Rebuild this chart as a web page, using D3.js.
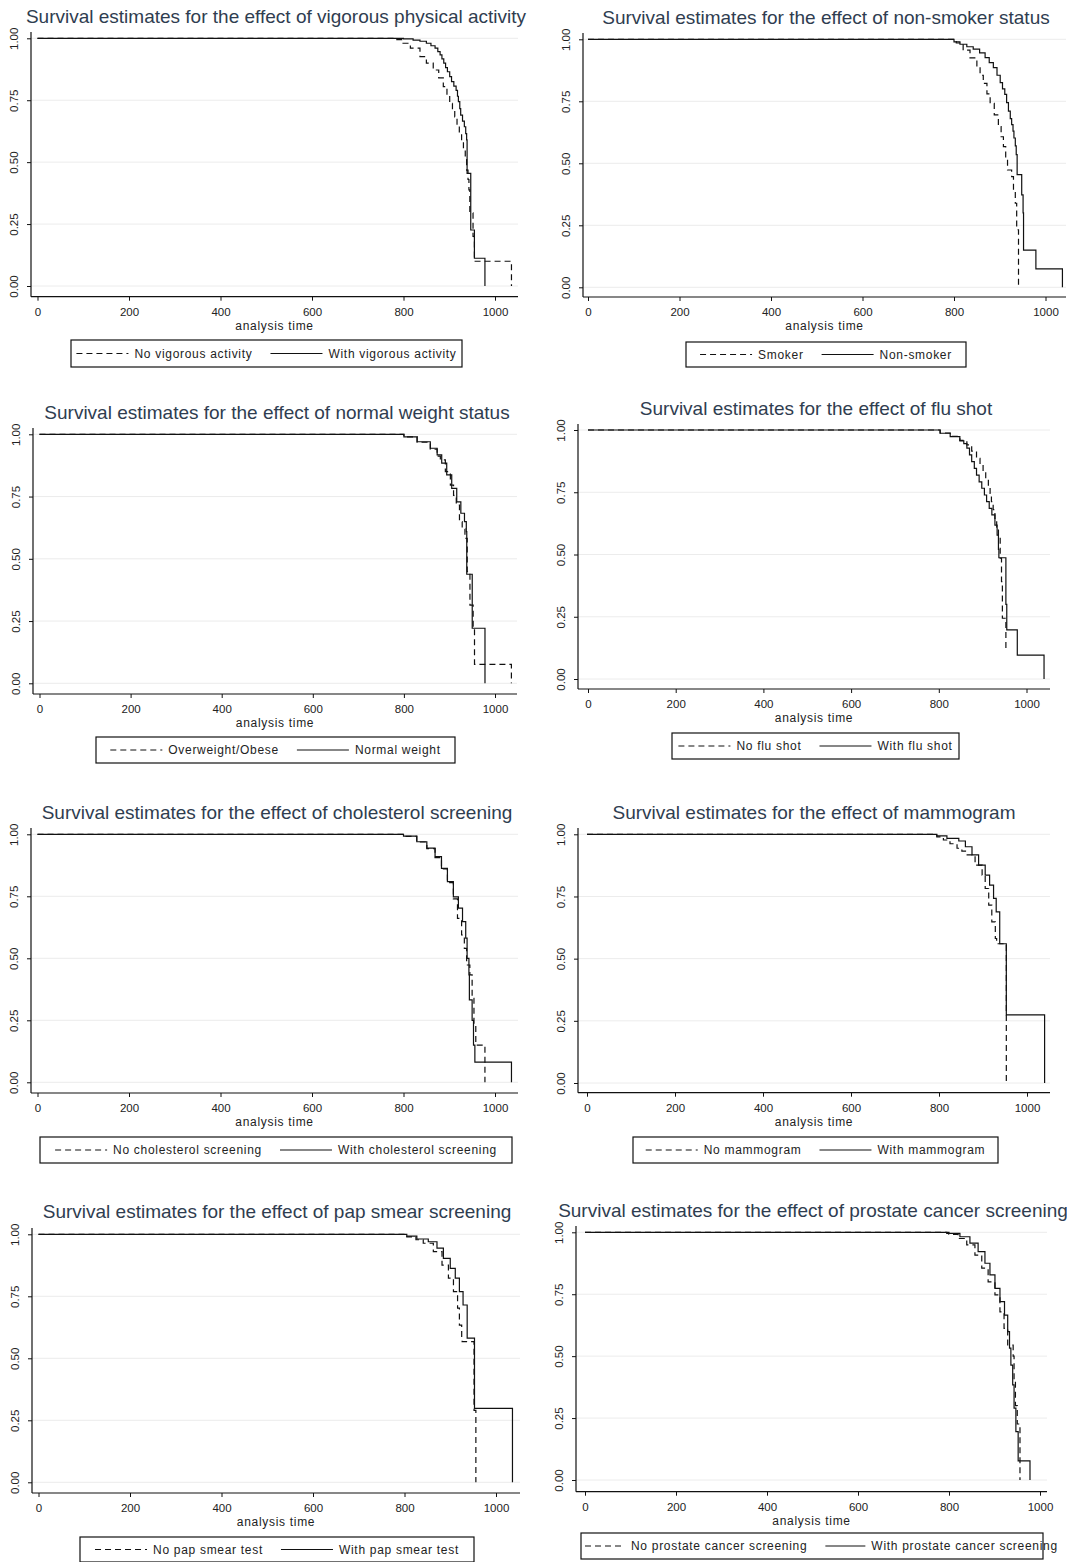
<!DOCTYPE html>
<html lang="en">
<head>
<meta charset="UTF-8">
<title>Survival estimates</title>
<script src="https://d3js.org/d3.v7.min.js"></script>
<style>
  body { margin: 0; background: #fff; }
  text { font-family: "Liberation Sans", Arial, sans-serif; fill: #222; }
  .title { font-size: 19px; fill: #2f3d50; }
  .tick text { font-size: 11.5px; fill: #222; }
  .tick line { stroke: #111; }
  .axisline { stroke: #111; stroke-width: 1.2; }
  .grid { stroke: #ececec; stroke-width: 1; }
  .km { fill: none; stroke: #111; stroke-width: 1.2; }
  .dash { stroke-dasharray: 6 4; }
  .legend-box { fill: none; stroke: #111; stroke-width: 1.2; }
  .legend text, .xlab { font-size: 12px; letter-spacing: 0.7px; }
</style>
</head>
<body>
<svg id="svg" width="1067" height="1562"></svg>

<script>
// --- data -----------------------------------------------------------------

let titles = [
    'Survival estimates for the effect of vigorous physical activity',
    'Survival estimates for the effect of non-smoker status',
    'Survival estimates for the effect of normal weight status',
    'Survival estimates for the effect of flu shot',
    'Survival estimates for the effect of cholesterol screening',
    'Survival estimates for the effect of mammogram',
    'Survival estimates for the effect of pap smear screening',
    'Survival estimates for the effect of prostate cancer screening'
];

let legendLabels = [
    ['No vigorous activity', 'With vigorous activity'],
    ['Smoker', 'Non-smoker'],
    ['Overweight/Obese', 'Normal weight'],
    ['No flu shot', 'With flu shot'],
    ['No cholesterol screening', 'With cholesterol screening'],
    ['No mammogram', 'With mammogram'],
    ['No pap smear test', 'With pap smear test'],
    ['No prostate cancer screening', 'With prostate cancer screening']
];

let xTicks = [0, 200, 400, 600, 800, 1000];
let yTicks = [0, 0.25, 0.5, 0.75, 1];
let xLabel = 'analysis time';

// [analysis time, survival]
let noVigorous = [[0,1],[766,1],[780,0.995],[799,0.98],[815,0.96],[836,0.926],[850,0.9],[865,0.872],[877,0.84],[887,0.805],[895,0.77],[901,0.737],[907,0.71],[912,0.683],[917,0.65],[922,0.616],[927,0.58],[931,0.549],[935,0.51],[938,0.468],[941,0.43],[943,0.388],[945,0.295],[952,0.2],[955,0.1],[1036,0]];
let withVigorous = [[0,1],[781,1],[800,0.998],[821,0.993],[836,0.988],[850,0.98],[860,0.97],[869,0.96],[875,0.946],[880,0.933],[884,0.917],[888,0.9],[892,0.882],[896,0.865],[901,0.845],[905,0.825],[910,0.807],[915,0.79],[918,0.766],[920,0.744],[923,0.716],[925,0.69],[929,0.666],[933,0.643],[936,0.615],[938,0.59],[939,0.455],[947,0.226],[955,0.112],[978,0]];

let smoker = [[0,1],[791,1],[805,0.985],[820,0.956],[835,0.925],[850,0.889],[857,0.855],[864,0.822],[872,0.78],[879,0.742],[888,0.695],[897,0.648],[903,0.607],[908,0.567],[913,0.52],[917,0.473],[926,0.446],[930,0.39],[934,0.339],[937,0.232],[941,0]];
let nonSmoker = [[0,1],[784,1],[800,0.99],[813,0.98],[828,0.97],[842,0.96],[856,0.945],[868,0.926],[877,0.906],[886,0.886],[894,0.855],[901,0.825],[906,0.8],[911,0.778],[915,0.745],[919,0.71],[923,0.68],[926,0.656],[929,0.63],[931,0.602],[934,0.57],[936,0.535],[938,0.454],[948,0.373],[951,0.3],[952,0.15],[979,0.074],[1037,0]];

let overweight = [[0,1],[781,1],[800,0.99],[829,0.968],[858,0.94],[873,0.912],[880,0.897],[891,0.85],[902,0.796],[909,0.755],[915,0.716],[922,0.649],[928,0.62],[934,0.582],[939,0.448],[945,0.314],[952,0.221],[955,0.076],[1036,0]];
let normalWeight = [[0,1],[781,1],[800,0.99],[829,0.97],[858,0.944],[873,0.917],[883,0.884],[894,0.837],[905,0.783],[916,0.729],[925,0.683],[933,0.649],[937,0.609],[938,0.438],[950,0.221],[978,0]];

let noFluShot = [[0,1],[780,1],[803,0.988],[826,0.975],[848,0.958],[864,0.94],[875,0.915],[886,0.886],[894,0.86],[901,0.833],[907,0.806],[913,0.779],[917,0.745],[920,0.712],[924,0.68],[928,0.645],[932,0.61],[936,0.578],[940,0.485],[943,0.391],[945,0.244],[953,0.11]];
let withFluShot = [[0,1],[776,1],[803,0.987],[826,0.973],[848,0.956],[857,0.945],[864,0.927],[870,0.9],[875,0.873],[881,0.846],[886,0.819],[892,0.792],[898,0.766],[904,0.739],[909,0.712],[915,0.685],[921,0.659],[928,0.618],[933,0.578],[936,0.52],[937,0.487],[953,0.3],[955,0.197],[979,0.096],[1040,0]];

let noCholesterol = [[0,1],[778,1],[800,0.992],[829,0.969],[851,0.942],[869,0.906],[883,0.86],[896,0.805],[909,0.74],[918,0.661],[927,0.594],[933,0.54],[938,0.473],[945,0.433],[950,0.339],[954,0.231],[958,0.15],[978,0]];
let withCholesterol = [[0,1],[778,1],[800,0.993],[829,0.97],[851,0.944],[869,0.91],[883,0.863],[896,0.809],[909,0.748],[920,0.702],[929,0.648],[936,0.581],[939,0.5],[943,0.433],[944,0.332],[950,0.25],[953,0.15],[956,0.081],[1036,0]];

let noMammogram = [[0,1],[780,1],[795,0.99],[810,0.977],[825,0.962],[841,0.944],[852,0.932],[864,0.917],[882,0.876],[898,0.836],[905,0.782],[913,0.715],[920,0.648],[928,0.581],[931,0.56],[953,0]];
let withMammogram = [[0,1],[772,1],[795,0.994],[818,0.984],[845,0.973],[860,0.95],[875,0.917],[890,0.876],[905,0.836],[915,0.796],[924,0.742],[930,0.688],[938,0.56],[953,0.274],[1040,0]];

let noPapSmear = [[0,1],[780,1],[805,0.99],[825,0.978],[841,0.964],[863,0.93],[882,0.876],[896,0.823],[907,0.769],[916,0.702],[920,0.634],[925,0.581],[926,0.567],[952,0.29],[956,0]];
let withPapSmear = [[0,1],[780,1],[805,0.993],[827,0.981],[852,0.97],[871,0.944],[885,0.903],[900,0.863],[911,0.823],[920,0.769],[928,0.715],[937,0.581],[953,0.298],[1036,0]];

let noProstate = [[0,1],[775,1],[800,0.992],[820,0.975],[839,0.949],[857,0.908],[872,0.855],[886,0.8],[901,0.747],[912,0.679],[921,0.612],[929,0.545],[941,0.5],[943,0.4],[946,0.3],[950,0.226],[956,0]];
let withProstate = [[0,1],[773,1],[795,0.996],[824,0.982],[846,0.956],[864,0.922],[879,0.875],[890,0.828],[901,0.774],[912,0.72],[922,0.666],[929,0.599],[933,0.532],[936,0.464],[940,0.384],[943,0.29],[947,0.195],[952,0.077],[978,0]];

let curves = [
    [noVigorous, withVigorous],
    [smoker, nonSmoker],
    [overweight, normalWeight],
    [noFluShot, withFluShot],
    [noCholesterol, withCholesterol],
    [noMammogram, withMammogram],
    [noPapSmear, withPapSmear],
    [noProstate, withProstate]
];

// --- layout of the eight graphs (pixels) -----------------------------------
// ax: y axis line, x0/x1: pixel of time 0 / 1000, yT/yB: pixel of 1.00 / 0.00
let layout = [
    {ax: 31,  top: 32,   x0: 37.5, x1: 495,    yT: 38.3,   yB: 286,    axY: 296.7,  right: 518,  tx: 276, ty: 16,   lg: [71, 340, 391, 27]},
    {ax: 583, top: 33,   x0: 588,  x1: 1045.5, yT: 39.3,   yB: 287.3,  axY: 297,    right: 1066, tx: 826, ty: 17,   lg: [686, 342, 280, 25]},
    {ax: 33,  top: 428,  x0: 39.5, x1: 495,    yT: 434.3,  yB: 683.3,  axY: 694,    right: 517,  tx: 277, ty: 412,  lg: [96, 737, 359, 26]},
    {ax: 578, top: 424,  x0: 588,  x1: 1026.5, yT: 430,    yB: 679,    axY: 689,    right: 1050, tx: 816, ty: 408,  lg: [672, 733, 287, 26]},
    {ax: 31,  top: 828,  x0: 37.5, x1: 495,    yT: 834.3,  yB: 1082.3, axY: 1093,   right: 518,  tx: 277, ty: 812,  lg: [40, 1137, 472, 26]},
    {ax: 578, top: 828,  x0: 587,  x1: 1027,   yT: 834.3,  yB: 1083,   axY: 1092.7, right: 1050, tx: 814, ty: 812,  lg: [633, 1137, 365, 26]},
    {ax: 32,  top: 1228, x0: 38.5, x1: 496,    yT: 1234.3, yB: 1482.3, axY: 1493,   right: 520,  tx: 277, ty: 1211, lg: [80, 1537, 394, 25]},
    {ax: 576, top: 1226, x0: 585,  x1: 1040,   yT: 1232.3, yB: 1480,   axY: 1491.7, right: 1047, tx: 813, ty: 1210, lg: [581, 1533, 462, 26]}
];

let svg = d3.select('#svg');

layout.forEach((p, i) => {
    let g = svg.append('g');
    let x = d3.scaleLinear().domain([0, 1000]).range([p.x0, p.x1]);
    let y = d3.scaleLinear().domain([0, 1]).range([p.yB, p.yT]);

    // title
    g.append('text')
        .attr('class', 'title')
        .attr('x', p.tx)
        .attr('y', p.ty + 6.5)
        .attr('text-anchor', 'middle')
        .text(titles[i]);

    // horizontal grid
    g.selectAll('.grid')
        .data(yTicks)
        .enter()
        .append('line')
        .attr('class', 'grid')
        .attr('x1', p.ax)
        .attr('x2', p.right)
        .attr('y1', d => y(d))
        .attr('y2', d => y(d));

    // axes
    let xAxis = d3.axisBottom(x).tickValues(xTicks).tickFormat(d3.format('d')).tickSize(4).tickPadding(7);
    g.append('g')
        .attr('transform', `translate(0,${p.axY})`)
        .call(xAxis)
        .call(a => a.select('.domain').remove());

    let yAxis = d3.axisLeft(y).tickValues(yTicks).tickFormat(d3.format('.2f')).tickSize(4);
    let ya = g.append('g')
        .attr('transform', `translate(${p.ax},0)`)
        .call(yAxis)
        .call(a => a.select('.domain').remove());
    ya.selectAll('text')
        .attr('x', 0)
        .attr('y', -13)
        .attr('dy', 0)
        .attr('text-anchor', 'middle')
        .attr('transform', 'rotate(-90)');

    g.append('line').attr('class', 'axisline')
        .attr('x1', p.ax).attr('x2', p.ax).attr('y1', p.top).attr('y2', p.axY);
    g.append('line').attr('class', 'axisline')
        .attr('x1', p.ax).attr('x2', p.right).attr('y1', p.axY).attr('y2', p.axY);

    g.append('text')
        .attr('class', 'xlab')
        .attr('x', (p.ax + p.right) / 2)
        .attr('y', p.axY + 33)
        .attr('text-anchor', 'middle')
        .text(xLabel);

    // survival curves
    let line = d3.line()
        .x(d => x(d[0]))
        .y(d => y(d[1]))
        .curve(d3.curveStepAfter);

    g.append('path').datum(curves[i][0]).attr('class', 'km dash').attr('d', line);
    g.append('path').datum(curves[i][1]).attr('class', 'km').attr('d', line);

    // legend
    let [lx, ly, lw, lh] = p.lg;
    let lgd = g.append('g').attr('class', 'legend');
    lgd.append('rect').attr('class', 'legend-box')
        .attr('x', lx).attr('y', ly).attr('width', lw).attr('height', lh);

    let cy = ly + lh / 2;
    let t1 = lgd.append('text').attr('y', cy + 4).text(legendLabels[i][0]);
    let t2 = lgd.append('text').attr('y', cy + 4).text(legendLabels[i][1]);
    let w1 = t1.node().getComputedTextLength();
    let w2 = t2.node().getComputedTextLength();
    let keyLen = 52, pad = 6, gap = 18;
    let total = 2 * (keyLen + pad) + w1 + w2 + gap;
    if (total > lw - 8) {
        keyLen = Math.max(40, (lw - 8 - (2 * pad + w1 + w2 + gap)) / 2);
        total = 2 * (keyLen + pad) + w1 + w2 + gap;
    }
    let sx = Math.max(lx + 4, lx + (lw - total) / 2);

    lgd.append('line').attr('class', 'km dash')
        .attr('x1', sx).attr('x2', sx + keyLen).attr('y1', cy).attr('y2', cy);
    t1.attr('x', sx + keyLen + pad);
    let sx2 = sx + keyLen + pad + w1 + gap;
    lgd.append('line').attr('class', 'km')
        .attr('x1', sx2).attr('x2', sx2 + keyLen).attr('y1', cy).attr('y2', cy);
    t2.attr('x', sx2 + keyLen + pad);
});
</script>
</body>
</html>
